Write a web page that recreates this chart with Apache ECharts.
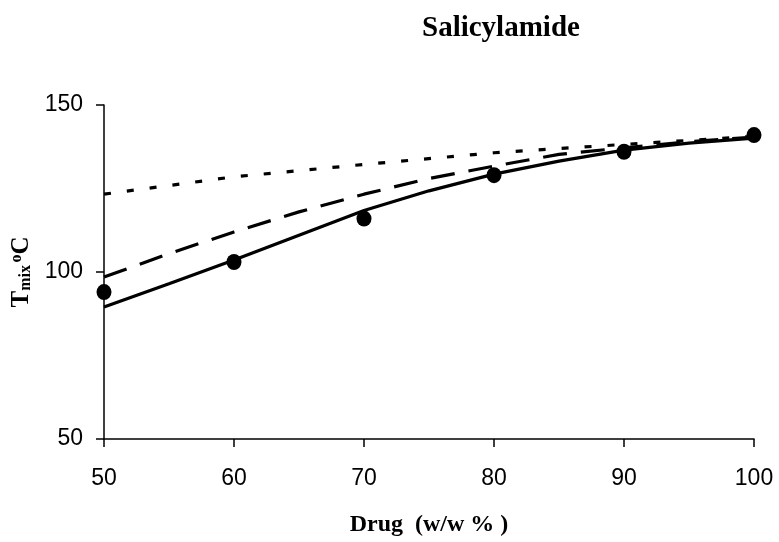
<!DOCTYPE html>
<html>
<head>
<meta charset="utf-8">
<style>html,body{margin:0;padding:0;background:#fff}#c{width:779px;height:542px}</style>
<script src="https://cdn.jsdelivr.net/npm/echarts@6/dist/echarts.min.js"></script>
</head>
<body>
<div id="c"></div>
<script>
// Data
var titleText = 'Salicylamide';
var xAxisTitle = 'Drug  (w/w % )';
var xTicks = [50, 60, 70, 80, 90, 100];
var yTicks = [50, 100, 150];
// experimental points
var expX = [50, 60, 70, 80, 90, 100];
var expY = [94, 103, 116, 129, 136, 141];
// model curves
var curveX = [50, 55, 60, 65, 70, 75, 80, 85, 90, 95, 100];
var solidY = [89.5, 96.5, 103.6, 111, 118.4, 124.3, 129.3, 133.2, 136.5, 138.6, 140.1];
var dashedY = [98.5, 105.5, 112, 118, 123.3, 128, 131.7, 135.2, 137.2, 139, 140.4];
var dottedX = [50, 60, 70, 80, 90, 100];
var dottedY = [123.3, 128.5, 132.2, 135.7, 138.2, 140.6];

function pairs(xs, ys) { return xs.map(function (x, i) { return [x, ys[i]]; }); }

var chart = echarts.init(document.getElementById('c'));
var serif = '"Liberation Serif", "Times New Roman", serif';
var sans = '"Liberation Sans", Arial, sans-serif';
chart.setOption({
  animation: false,
  title: {
    text: titleText,
    left: 417, top: 9,
    textStyle: { fontFamily: serif, fontWeight: 'bold', fontSize: 29, color: '#000' }
  },
  grid: { left: 104, right: 25, top: 105, bottom: 99 },
  xAxis: {
    type: 'value', min: xTicks[0], max: xTicks[xTicks.length - 1], interval: 10,
    name: xAxisTitle, nameLocation: 'middle', nameGap: 74,
    nameTextStyle: { fontFamily: serif, fontWeight: 'bold', fontSize: 24, color: '#000' },
    axisLine: { lineStyle: { color: '#000', width: 1.5 } },
    axisTick: { show: true, length: 8, lineStyle: { color: '#000', width: 1.5 } },
    axisLabel: { margin: 28, fontFamily: sans, fontSize: 23, color: '#000' },
    splitLine: { show: false }
  },
  yAxis: {
    type: 'value', min: yTicks[0], max: yTicks[yTicks.length - 1], interval: 50,
    name: '{t|T}{s|mix}{sp| }{o|o}{t|C}', nameLocation: 'middle', nameGap: 67, nameRotate: 90,
    nameTextStyle: {
      color: '#000',
      rich: {
        t: { fontFamily: serif, fontWeight: 'bold', fontSize: 25, color: '#000', verticalAlign: 'bottom' },
        s: { fontFamily: serif, fontWeight: 'bold', fontSize: 16, color: '#000', verticalAlign: 'bottom' },
        sp: { fontFamily: serif, fontSize: 10 },
        o: { fontFamily: serif, fontWeight: 'bold', fontSize: 16, color: '#000', verticalAlign: 'top' }
      }
    },
    axisLine: { show: true, lineStyle: { color: '#000', width: 1.5 } },
    axisTick: { show: true, length: 8, lineStyle: { color: '#000', width: 1.5 } },
    axisLabel: { margin: 21, fontFamily: sans, fontSize: 23, color: '#000' },
    splitLine: { show: false }
  },
  series: [
    { type: 'line', data: pairs(curveX, solidY), symbol: 'none', smooth: false,
      lineStyle: { color: '#000', width: 3.2 } },
    { type: 'line', data: pairs(curveX, dashedY), symbol: 'none', smooth: false,
      lineStyle: { color: '#000', width: 3.2, type: [24, 14], cap: 'butt' } },
    { type: 'line', data: pairs(dottedX, dottedY), symbol: 'none', smooth: false,
      lineStyle: { color: '#000', width: 3.2, type: [7, 16], cap: 'butt' } },
    { type: 'scatter', data: pairs(expX, expY), symbol: 'circle', symbolSize: [15, 16],
      itemStyle: { color: '#000', opacity: 1 }, z: 5 }
  ]
});
</script>
</body>
</html>
